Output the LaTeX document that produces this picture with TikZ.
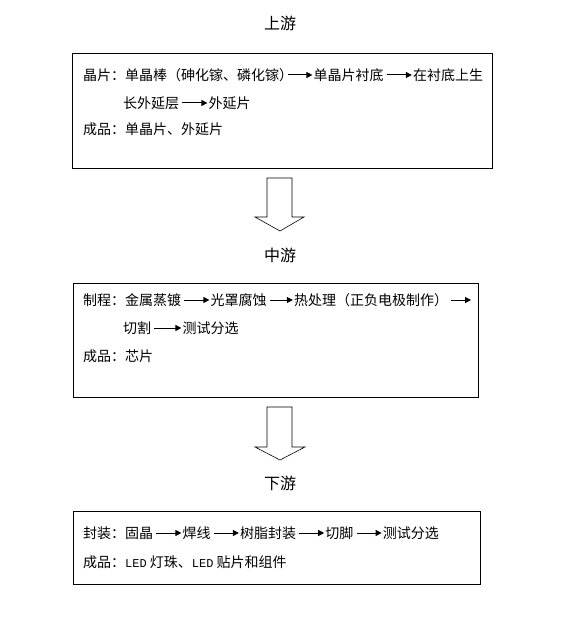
\documentclass[tikz,border=0pt]{standalone}
\usepackage{fontspec}
\setmainfont{Noto Sans CJK SC}
\newfontfamily\ledfont{Liberation Mono}
\usetikzlibrary{positioning,arrows.meta}
\begin{document}
\begin{tikzpicture}[x=1pt,y=-1pt,
  box/.style={draw, line width=0.8pt, inner sep=0pt},
  seg/.style={inner sep=0pt, anchor=west, font=\fontsize{14pt}{14pt}\selectfont, text height=12.3pt, text depth=1.7pt},
  flow/.style={-{Triangle[length=6pt,width=6pt]}, line width=1pt, shorten <=3pt, shorten >=1pt},
  title/.style={inner sep=0pt, font=\fontsize{16pt}{16pt}\selectfont},
  blockarrow/.style={draw, line width=0.6pt, fill=white, line join=miter}]
\useasboundingbox (0,0) rectangle (576,636);

% titles
\node[title] (t1) at (280,23) {上游};
\node[title] (t2) at (280,255) {中游};
\node[title] (t3) at (280,483) {下游};

% boxes
\node[box, minimum width=420pt, minimum height=115pt] (box1) at (282,110.5) {};
\node[box, minimum width=405pt, minimum height=114pt] (box2) at (275.5,340) {};
\node[box, minimum width=407pt, minimum height=73pt] (box3) at (276.5,547.5) {};

% block arrows
\draw[blockarrow] (267,178) -- (292,178) -- (292,217) -- (304,217) -- (280,231) -- (255,217) -- (267,217) -- cycle;
\draw[blockarrow] (267,407) -- (292,407) -- (292,447) -- (305,447) -- (280,460) -- (255,447) -- (267,447) -- cycle;

% box 1 text
\node[seg] (a1) at (83,75) {晶片：单晶棒（砷化镓、磷化镓）};
\node[seg, right=20pt of a1] (a2) {单晶片衬底};
\node[seg, right=29pt of a2] (a3) {在衬底上生};
\node[seg] (a4) at (123,103) {长外延层};
\node[seg, right=29pt of a4] (a5) {外延片};
\node[seg] (a6) at (83,129) {成品：单晶片、外延片};
\draw[flow, shorten <=-5pt] (a1.east) -- (a2.west);
\draw[flow] (a2.east) -- (a3.west);
\draw[flow] (a4.east) -- (a5.west);

% box 2 text
\node[seg] (b1) at (83,300) {制程：金属蒸镀};
\node[seg, right=29pt of b1] (b2) {光罩腐蚀};
\node[seg, right=27pt of b2] (b3) {热处理（正负电极制作）};
\coordinate (b3end) at (472,300);
\node[seg] (b4) at (123,328) {切割};
\node[seg, right=31pt of b4] (b5) {测试分选};
\node[seg] (b6) at (83,356) {成品：芯片};
\draw[flow] (b1.east) -- (b2.west);
\draw[flow] (b2.east) -- (b3.west);
\draw[flow] (b3.east) -- (b3end);
\draw[flow] (b4.east) -- (b5.west);

% box 3 text
\node[seg] (c1) at (83,533) {封装：固晶};
\node[seg, right=29pt of c1] (c2) {焊线};
\node[seg, right=29pt of c2] (c3) {树脂封装};
\node[seg, right=29pt of c3] (c4) {切脚};
\node[seg, right=29pt of c4] (c5) {测试分选};
\node[seg] (c6) at (83,562) {成品：{\fontsize{12pt}{12pt}\ledfont LED} 灯珠、{\fontsize{12pt}{12pt}\ledfont LED} 贴片和组件};
\draw[flow] (c1.east) -- (c2.west);
\draw[flow] (c2.east) -- (c3.west);
\draw[flow] (c3.east) -- (c4.west);
\draw[flow] (c4.east) -- (c5.west);
\end{tikzpicture}
\end{document}
